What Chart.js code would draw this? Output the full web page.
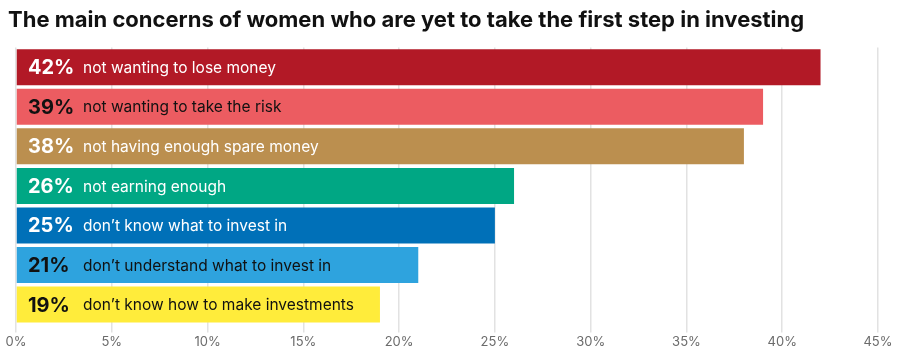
<!DOCTYPE html>
<html>
<head>
<meta charset="utf-8">
<script src="https://cdn.jsdelivr.net/npm/chart.js@4/dist/chart.umd.min.js"></script>
<style>
html,body{margin:0;padding:0;background:#fff;}
#wrap{width:912px;height:352px;position:relative;}
</style>
</head>
<body>
<div id="wrap"><canvas id="c"></canvas></div>
<script>
const titleText = "The main concerns of women who are yet to take the first step in investing";
const categories = [
  "not wanting to lose money",
  "not wanting to take the risk",
  "not having enough spare money",
  "not earning enough",
  "don\u2019t know what to invest in",
  "don\u2019t understand what to invest in",
  "don\u2019t know how to make investments"
];
const values = [42, 39, 38, 26, 25, 21, 19];
const barColors = ["#B21926", "#EC5C61", "#BB8F4F", "#00A784", "#0070B8", "#2EA3DE", "#FFEC3B"];
const labelColors = ["#ffffff", "#111111", "#ffffff", "#ffffff", "#ffffff", "#111111", "#111111"];
const xTicks = [0, 5, 10, 15, 20, 25, 30, 35, 40, 45];

const barText = {
  id: 'barText',
  afterDatasetsDraw(chart) {
    const ctx = chart.ctx;
    const meta = chart.getDatasetMeta(0);
    const x0 = chart.scales.x.getPixelForValue(0);
    ctx.save();
    ctx.textBaseline = 'middle';
    meta.data.forEach((bar, i) => {
      const y = bar.y + 1;
      ctx.fillStyle = labelColors[i];
      ctx.font = "bold 20px Inter";
      ctx.textAlign = 'left';
      ctx.fillText(values[i] + "%", x0 + 12, y);
      ctx.font = "15.5px Inter";
      ctx.fillText(categories[i], x0 + 67, y);
    });
    ctx.restore();
  }
};

new Chart(document.getElementById('c'), {
  type: 'bar',
  data: {
    labels: categories,
    datasets: [{
      data: values,
      backgroundColor: barColors,
      borderWidth: 0,
      barPercentage: 1,
      categoryPercentage: 0.91
    }]
  },
  options: {
    indexAxis: 'y',
    responsive: true,
    maintainAspectRatio: false,
    animation: false,
    layout: { padding: { left: 8, right: 34, top: 4, bottom: 0 } },
    plugins: {
      legend: { display: false },
      tooltip: { enabled: false },
      title: {
        display: true,
        text: titleText,
        align: 'start',
        color: '#111111',
        font: { family: 'Inter', size: 22, weight: 'bold' },
        padding: { top: 3, bottom: 14 }
      }
    },
    scales: {
      x: {
        min: 0, max: 45,
        afterBuildTicks(axis) { axis.ticks = xTicks.map(v => ({ value: v })); },
        grid: { color: '#e2e2e2', drawTicks: true, tickLength: 8, lineWidth: 1.5 },
        border: { display: false },
        ticks: {
          color: '#6b6b6b',
          font: { family: 'Inter', size: 13 },
          padding: 2,
          callback: v => v + '%'
        }
      },
      y: {
        grid: { display: false },
        border: { display: false },
        ticks: { display: false }
      }
    }
  },
  plugins: [barText]
});
</script>
</body>
</html>
